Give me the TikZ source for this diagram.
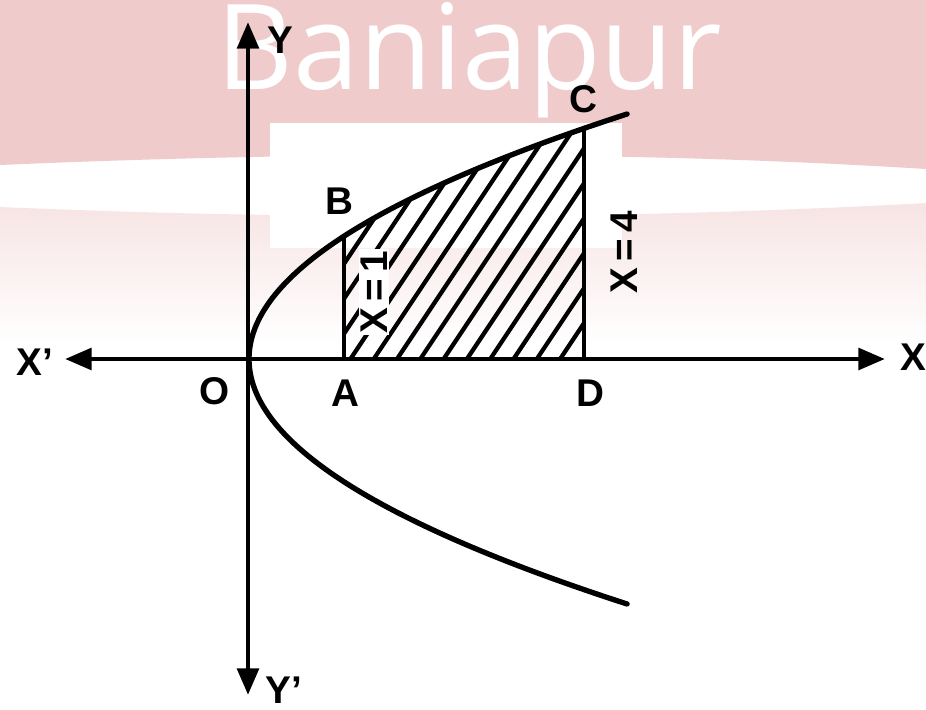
\documentclass[tikz,border=0pt]{standalone}
\usepackage{fontspec}
\setmainfont{Liberation Sans}
\newfontfamily\wmfont{Open Sans}
\usetikzlibrary{arrows.meta}
\definecolor{bandpink}{RGB}{240,203,203}
\definecolor{fadepink}{RGB}{247,228,228}
\tikzset{axtip/.tip={Triangle[length=20pt,width=16pt]}}
\begin{document}
\begin{tikzpicture}[x=0.75pt,y=-0.75pt,
  axis/.style={line width=3.7pt},
  curve/.style={line width=4pt, line cap=round},
  hatch/.style={line width=3.2pt},
  lbl/.style={font=\fontsize{29}{34}\selectfont\bfseries, inner sep=0pt},
  wm/.style={font=\wmfont\fontsize{89}{100}\selectfont, text=white, inner sep=0pt},
]
\useasboundingbox (0,0) rectangle (926,710);
\fill[white] (0,0) rectangle (926,710);
% background bands
\shade[top color=fadepink, bottom color=white] (0,207) .. controls (300,220) and (620,220) .. (926,203) -- (926,345) -- (0,345) -- cycle;
\fill[bandpink] (0,0) -- (926,0) -- (926,169) .. controls (620,150) and (300,152) .. (0,165) -- cycle;
\fill[white] (270,123) rectangle (622,248);

% watermark (under the drawing)
\node[wm, anchor=base west] (wmk) at (216,90) {Baniapur};

% key points
\coordinate (O) at (249,359);
\coordinate (A) at (344,359);
\coordinate (B) at (344,{359-12.6*sqrt(95)});
\coordinate (D) at (584,359);
\coordinate (C) at (584,{359-12.6*sqrt(335)});
\coordinate (Xl) at (65,359);
\coordinate (Xr) at (885,359);
\coordinate (Yt) at (248,22);
\coordinate (Yb) at (248,695);

% hatching
\begin{scope}
\clip (A) -- plot[domain=344:584,samples=60] (\x,{359-12.6*sqrt(\x-249)}) -- (D) -- cycle;
\foreach \i in {-8,...,8} \draw[hatch] ({393+23.3*\i},400) -- ++(200,-300);
\end{scope}

% axes
\draw[axis, axtip-axtip] (Xl) -- (Xr);
\draw[axis, axtip-axtip] (Yb) -- (Yt);

% parabola
\draw[curve] plot[domain=-245:245,samples=140] ({249+(\x/12.6)^2},{359+\x});
\draw[axis] (A) -- (B);
\draw[axis] (D) -- (C);

% labels
\node[lbl] (lXp) at (35,362) {X'};
\node[lbl] (lX) at (913,357) {X};
\node[lbl] (lY) at (280,40) {Y};
\node[lbl] (lYp) at (284,690) {Y'};
\node[lbl] (lO) at (215,391) {O};
\node[lbl] (lA) at (345,393) {A};
\node[lbl] (lD) at (590,393) {D};
\node[lbl] (lB) at (339,201) {B};
\node[lbl] (lC) at (583,99) {C};
\node[lbl, rotate=90, fill=white, inner sep=1pt] (l1) at (374,292) {X\,=\,1};
\node[lbl, rotate=90] (l4) at (624,252) {X\,=\,4};
\end{tikzpicture}
\end{document}
